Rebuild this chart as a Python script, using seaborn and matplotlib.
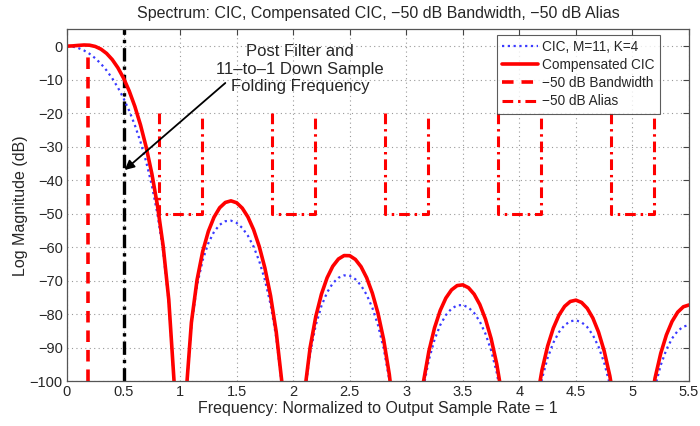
import numpy as np
import pandas as pd
import matplotlib
matplotlib.use("Agg")
import matplotlib.pyplot as plt
import seaborn as sns

# ---- data ----
freq = [round(0.05 * i, 2) for i in range(111)]  # 0 .. 5.5 sample grid

cic_db = [
    0.00, -0.14, -0.57, -1.29, -2.30, -3.62, -5.26, -7.25, -9.61, -12.36,
    -15.57, -19.29, -23.60, -28.61, -34.51, -41.55, -50.18, -61.22, -76.53, -102.02,
    -150.0, -105.40, -83.31, -71.44, -63.89, -58.82, -55.45, -53.34, -52.28, -52.11,
    -52.79, -54.29, -56.63, -59.88, -64.20, -69.80, -77.11, -86.95, -101.15, -125.61,
    -150.0, -127.16, -104.24, -91.59, -83.31, -77.56, -73.54, -70.82, -69.17, -68.45,
    -68.60, -69.60, -71.46, -74.26, -78.13, -83.31, -90.22, -99.67, -113.50, -137.60,
    -150.0, -138.46, -115.22, -102.25, -93.67, -87.62, -83.31, -80.31, -78.39, -77.41,
    -77.31, -78.05, -79.67, -82.23, -85.87, -90.82, -97.51, -106.74, -120.35, -144.24,
    -160.0, -144.70, -121.26, -108.10, -99.32, -93.09, -88.59, -85.41, -83.31, -82.16,
    -81.87, -82.45, -83.89, -86.29, -89.76, -94.55, -101.08, -110.15, -123.60, -147.33,
    -170.0, -147.48, -123.88, -110.57, -101.65, -95.26, -90.62, -87.29, -85.04, -83.74,
    -83.31,
]

comp_db = [
    0.00, 0.07, 0.22, 0.34, 0.28, -0.10, -0.89, -2.17, -4.01, -6.45,
    -9.55, -13.37, -18.00, -23.54, -30.14, -38.03, -47.60, -59.59, -75.74, -101.81,
    -150.0, -105.19, -82.52, -69.81, -61.31, -55.30, -51.08, -48.26, -46.68, -46.20,
    -46.77, -48.38, -51.03, -54.80, -59.83, -66.28, -74.53, -85.32, -100.36, -125.40,
    -150.0, -126.95, -103.45, -89.96, -80.73, -74.04, -69.17, -65.74, -63.57, -62.54,
    -62.58, -63.69, -65.86, -69.18, -73.76, -79.79, -87.64, -98.04, -112.71, -137.39,
    -150.0, -138.25, -114.43, -100.62, -91.09, -84.10, -78.94, -75.23, -72.79, -71.50,
    -71.29, -72.14, -74.07, -77.15, -81.50, -87.30, -94.93, -105.11, -119.56, -144.03,
    -160.0, -144.49, -120.47, -106.47, -96.74, -89.57, -84.22, -80.33, -77.71, -76.25,
    -75.85, -76.54, -78.29, -81.21, -85.39, -91.03, -98.50, -108.52, -122.81, -147.12,
    -170.0, -147.27, -123.09, -108.94, -99.07, -91.74, -86.25, -82.21, -79.44, -77.83,
    -77.29,
]

bandwidth = 0.19            # -50 dB bandwidth edge
bandwidth_top = -2.3        # where the bandwidth marker meets the CIC curve
alias_centers = [1, 2, 3, 4, 5]
alias_top = -20
alias_floor = -50
fold_freq = 0.5

x_ticks = [0, 0.5, 1, 1.5, 2, 2.5, 3, 3.5, 4, 4.5, 5, 5.5]
x_tick_labels = ["0", "0.5", "1", "1.5", "2", "2.5", "3", "3.5", "4", "4.5", "5", "5.5"]
y_ticks = [0, -10, -20, -30, -40, -50, -60, -70, -80, -90, -100]

# ---- style ----
sns.set_style("white")
plt.rcParams["font.family"] = ["Liberation Sans", "DejaVu Sans"]
plt.rcParams["axes.unicode_minus"] = True

fig = plt.figure(figsize=(7.0, 4.26), dpi=100)
ax = fig.add_axes([0.0957, 0.1056, 0.8886, 0.8254])

df = pd.DataFrame({"freq": freq, "cic": cic_db, "comp": comp_db})

sns.lineplot(data=df, x="freq", y="cic", ax=ax, color="#3a3aff", lw=1.6,
             linestyle=(0, (1, 1.6)), estimator=None, sort=False,
             label="CIC, M=11, K=4")
sns.lineplot(data=df, x="freq", y="comp", ax=ax, color="#ff0000", lw=2.6,
             estimator=None, sort=False, label="Compensated CIC")

# -50 dB bandwidth marker
sns.lineplot(x=[bandwidth, bandwidth], y=[-100, bandwidth_top], ax=ax,
             color="#ff0000", lw=2.6, linestyle=(0, (3.2, 2.2)),
             estimator=None, sort=False, label="\u221250 dB Bandwidth")

# -50 dB alias masks
for i, c in enumerate(alias_centers):
    sns.lineplot(x=[c - bandwidth, c - bandwidth, c + bandwidth, c + bandwidth],
                 y=[alias_top, alias_floor, alias_floor, alias_top], ax=ax,
                 color="#ff0000", lw=2.2, linestyle=(0, (3.5, 1.6, 0.8, 1.6)),
                 estimator=None, sort=False,
                 label="\u221250 dB Alias" if i == 0 else None)

# folding frequency line
ax.axvline(fold_freq, color="black", lw=2.4, linestyle=(0, (4, 1.5, 1, 1.5)),
           zorder=1)

ax.text(2.06, -6.9, "Post Filter and\n11\u2013to\u20131 Down Sample\nFolding Frequency",
        ha="center", va="center", fontsize=12, linespacing=1.2)
ax.annotate("", xy=(0.51, -37), xytext=(1.40, -11),
            arrowprops=dict(arrowstyle="-|>", color="black", lw=1.3,
                            mutation_scale=14, shrinkA=0, shrinkB=0))

ax.set_xlim(0, 5.5)
ax.set_ylim(-100, 5)
ax.set_xticks(x_ticks)
ax.set_xticklabels(x_tick_labels)
ax.set_yticks(y_ticks)
ax.tick_params(direction="in", length=4, labelsize=10.5, top=True, right=True,
               color="#444444", pad=3)
ax.grid(True, color="#999999", linestyle=(0, (1, 3)), lw=0.8)
for s in ax.spines.values():
    s.set_color("#555555")
    s.set_linewidth(0.9)

ax.set_title("Spectrum: CIC, Compensated CIC, \u221250 dB Bandwidth, \u221250 dB Alias",
             fontsize=11.5, pad=8)
ax.set_xlabel("Frequency: Normalized to Output Sample Rate = 1", fontsize=11.5, labelpad=1)
ax.set_ylabel("Log Magnitude (dB)", fontsize=11.5, labelpad=1)

leg = ax.legend(loc="upper right", bbox_to_anchor=(0.957, 0.993), fontsize=9.8,
                frameon=True, fancybox=False, edgecolor="#333333",
                handlelength=2.6, handletextpad=0.3, borderpad=0.4,
                labelspacing=0.3, borderaxespad=0.2)
leg.get_frame().set_linewidth(0.8)

fig.savefig("out.png", dpi=100)
